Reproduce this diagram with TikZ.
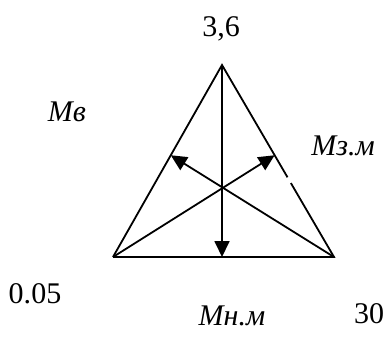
\documentclass[tikz,border=0pt]{standalone}
\usepackage{fontspec}
\setmainfont{Liberation Serif}
\usepackage{tikz}
\usetikzlibrary{arrows.meta, calc}

\begin{document}
\begin{tikzpicture}[x=1pt, y=-1pt, line width=1.8pt, font=\fontsize{30}{36}\selectfont,
    tip/.style={-{Triangle[length=16pt, width=15pt]}},
    lbl/.style={anchor=base, inner sep=0pt}]
  \useasboundingbox (0,0) rectangle (387,340);
  \coordinate (top) at (222,65);
  \coordinate (bl) at (113,257);
  \coordinate (br) at (334,257);
  \coordinate (base) at (222,257);
  \coordinate (lside) at ($(bl)!0.53!(top)$);
  \coordinate (rside) at ($(br)!0.53!(top)$);
  % triangle (right side has a small gap)
  \draw (bl) -- (top) -- ($(top)!0.585!(br)$);
  \draw ($(top)!0.615!(br)$) -- (br) -- (bl);
  \draw[tip] (top) -- (base);
  \draw[tip] (br) -- (lside);
  \draw[tip] (bl) -- (rside);
  % labels
  \node[lbl] (vtop) at (221,36) {3,6};
  \node[lbl] (vmin) at (35,303) {0.05};
  \node[lbl] (vmax) at (369,323) {30};
  \node[lbl] (mv) at (67,121) {\textit{Мв}};
  \node[lbl] (mzm) at (343,155) {\textit{Мз.м}};
  \node[lbl] (mnm) at (232,325) {\textit{Мн.м}};
\end{tikzpicture}
\end{document}
